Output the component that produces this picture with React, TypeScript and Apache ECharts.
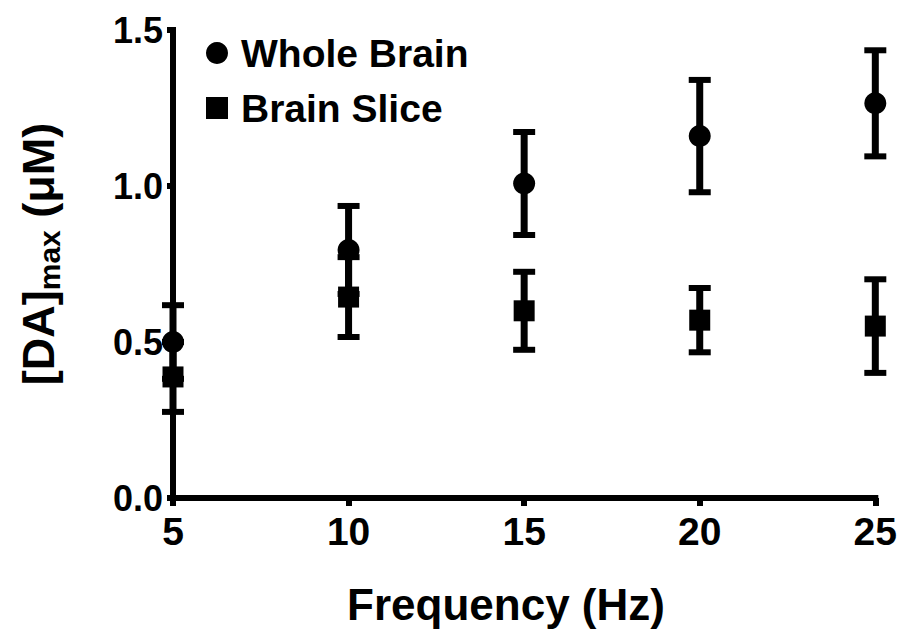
import React, { useEffect, useRef } from "react";
import * as echarts from "echarts";

const frequencies = [5, 10, 15, 20, 25];
const wholeMean = [0.5, 0.795, 1.008, 1.16, 1.265];
const wholeSem = [0.118, 0.141, 0.165, 0.18, 0.17];
const sliceMean = [0.388, 0.644, 0.6, 0.57, 0.551];
const sliceSem = [0.112, 0.128, 0.125, 0.103, 0.15];
const xTicks = { min: 5, max: 25, interval: 5 };
const yTicks = { min: 0, max: 1.5, interval: 0.5 };

const FONT = '"Liberation Sans", Arial, Helvetica, sans-serif';

function errorBarSeries(name: string, means: number[], sems: number[]) {
  return {
    type: "custom",
    name,
    z: 2,
    clip: false,
    data: frequencies.map((f, i) => [f, means[i] - sems[i], means[i] + sems[i]]),
    encode: { x: 0, y: [1, 2] },
    renderItem: (_params: any, api: any) => {
      const x = api.value(0);
      const lo = api.value(1);
      const hi = api.value(2);
      const pHi = api.coord([x, hi]);
      const pLo = api.coord([x, lo]);
      const half = 11;
      return {
        type: "group",
        children: [
          {
            type: "line",
            shape: { x1: pHi[0], y1: pHi[1], x2: pLo[0], y2: pLo[1] },
            style: { stroke: "#000", lineWidth: 7 },
          },
          {
            type: "line",
            shape: { x1: pHi[0] - half, y1: pHi[1], x2: pHi[0] + half, y2: pHi[1] },
            style: { stroke: "#000", lineWidth: 6 },
          },
          {
            type: "line",
            shape: { x1: pLo[0] - half, y1: pLo[1], x2: pLo[0] + half, y2: pLo[1] },
            style: { stroke: "#000", lineWidth: 6 },
          },
        ],
      };
    },
  };
}

export default function App() {
  const ref = useRef<HTMLDivElement>(null);
  useEffect(() => {
    if (!ref.current) return;
    const chart = echarts.init(ref.current, null, { renderer: "svg" });
    const axisLabelStyle = {
      color: "#000",
      fontWeight: "bold" as const,
      fontFamily: FONT,
    };
    chart.setOption({
      animation: false,
      backgroundColor: "#fff",
      grid: { left: 173, right: 23, top: 30, bottom: 131 },
      legend: {
        orient: "vertical",
        left: 201,
        top: 28,
        itemWidth: 22,
        itemHeight: 22,
        itemGap: 15,
        selectedMode: false,
        textStyle: {
          fontSize: 39,
          fontWeight: "bold",
          color: "#000",
          fontFamily: FONT,
          lineHeight: 40,
          padding: [0, 0, 0, 8],
        },
        data: [
          { name: "Whole Brain", icon: "circle" },
          { name: "Brain Slice", icon: "rect" },
        ],
      },
      xAxis: {
        type: "value",
        min: xTicks.min,
        max: xTicks.max,
        interval: xTicks.interval,
        splitLine: { show: false },
        axisLine: { lineStyle: { color: "#000", width: 6, cap: "square" } },
        axisTick: { show: true, length: 8, lineStyle: { color: "#000", width: 6 } },
        axisLabel: { ...axisLabelStyle, fontSize: 39, margin: 14 },
      },
      yAxis: {
        type: "value",
        min: yTicks.min,
        max: yTicks.max,
        interval: yTicks.interval,
        splitLine: { show: false },
        axisLine: { show: true, lineStyle: { color: "#000", width: 6, cap: "square" } },
        axisTick: { show: true, length: 6, lineStyle: { color: "#000", width: 6 } },
        axisLabel: {
          ...axisLabelStyle,
          fontSize: 36,
          margin: 10,
          formatter: (v: number) => v.toFixed(1),
        },
      },
      graphic: [
        {
          type: "text",
          x: 506,
          y: 604,
          style: {
            text: "Frequency (Hz)",
            fontSize: 44,
            fontWeight: "bold",
            fontFamily: FONT,
            fill: "#000",
            align: "center",
            verticalAlign: "middle",
          },
        },
        {
          type: "text",
          x: 38,
          y: 254,
          rotation: Math.PI / 2,
          style: {
            text: "{m|[DA]}{s|max}{m| (μM)}",
            fill: "#000",
            align: "center",
            verticalAlign: "middle",
            rich: {
              m: {
                fontSize: 45,
                fontWeight: "bold",
                fontFamily: FONT,
                fill: "#000",
                lineHeight: 52,
              },
              s: {
                fontSize: 30,
                fontWeight: "bold",
                fontFamily: FONT,
                fill: "#000",
                lineHeight: 40,
                verticalAlign: "bottom",
              },
            },
          },
        },
      ],
      series: [
        errorBarSeries("wholeErr", wholeMean, wholeSem),
        errorBarSeries("sliceErr", sliceMean, sliceSem),
        {
          type: "scatter",
          name: "Whole Brain",
          symbol: "circle",
          symbolSize: 22,
          z: 3,
          itemStyle: { color: "#000", opacity: 1 },
          data: frequencies.map((f, i) => [f, wholeMean[i]]),
        },
        {
          type: "scatter",
          name: "Brain Slice",
          symbol: "rect",
          symbolSize: 21,
          z: 3,
          itemStyle: { color: "#000", opacity: 1 },
          data: frequencies.map((f, i) => [f, sliceMean[i]]),
        },
      ],
    });
    return () => chart.dispose();
  }, []);
  return (
    <div
      ref={ref}
      style={{ position: "fixed", left: 0, top: 0, width: 900, height: 629, background: "#fff" }}
    />
  );
}
